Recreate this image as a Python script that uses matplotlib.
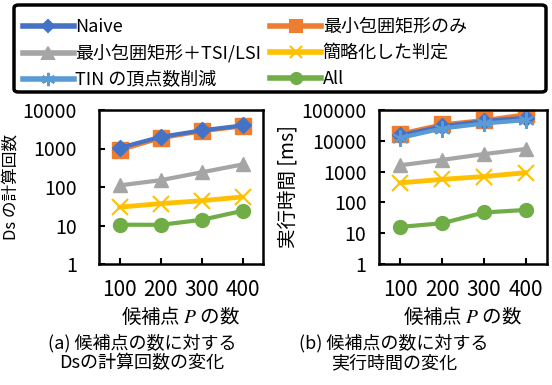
import numpy as np
import matplotlib.pyplot as plt
from matplotlib.lines import Line2D
from matplotlib.patches import FancyBboxPatch

plt.rcParams['font.family'] = ['Noto Sans CJK JP', 'DejaVu Sans']
plt.rcParams['mathtext.fontset'] = 'stix'

# candidate point counts
cands = ['100', '200', '300', '400']

# (a) number of Ds calculations
ds_naive = [1040, 2000, 2950, 3970]
ds_mbr = [900, 1850, 2800, 3750]
ds_mbr_tsi = [110, 150, 240, 385]
ds_simple = [30, 37, 44, 55]
ds_all = [10.5, 10.4, 14, 24]

# (b) execution time [ms]
t_naive = [15000, 29500, 43500, 56000]
t_mbr = [17000, 34000, 47000, 72000]
t_mbr_tsi = [1600, 2400, 3700, 5450]
t_simple = [430, 560, 690, 925]
t_tin = [12300, 25000, 36500, 47000]
t_all = [16, 21, 47, 57]

names = ['Naive', '最小包囲矩形のみ', '最小包囲矩形＋TSI/LSI', '簡略化した判定',
         'TIN の頂点数削減', 'All']
colors = ['#4472C4', '#ED7D31', '#A5A5A5', '#FFC000', '#5B9BD5', '#70AD47']
markers = ['D', 's', '^', 'x', (6, 2, 0), 'o']
msizes = [8, 11, 10, 11, 12, 10]
lwidths = [3, 3, 3, 3.5, 3, 3]

x = np.arange(1, len(cands) + 1)

fig = plt.figure(figsize=(5.52, 3.85), dpi=100)
ax1 = fig.add_axes([99/552, 1-264/385, 164/552, 154/385])
ax2 = fig.add_axes([379/552, 1-264/385, 168/552, 154/385])


def draw(ax, series, idx):
    for vals, i in zip(series, idx):
        thin = markers[i] in ('x', (6, 2, 0))
        ax.plot(x, vals, color=colors[i], marker=markers[i], markersize=msizes[i],
                linewidth=lwidths[i], markeredgewidth=1.5 if thin else 1,
                markeredgecolor=colors[i], solid_capstyle='round')


draw(ax1, [ds_mbr, ds_naive, ds_mbr_tsi, ds_simple, ds_all], [1, 0, 2, 3, 5])
draw(ax2, [t_mbr, t_naive, t_tin, t_mbr_tsi, t_simple, t_all], [1, 0, 4, 2, 3, 5])


def style(ax, top, pad, ylabel, ylsize):
    ax.set_yscale('log')
    ax.set_ylim(1, top)
    ax.set_xlim(0.5, len(cands) + 0.5)
    ax.set_xticks(x)
    ax.set_xticklabels(cands)
    ticks = [10 ** k for k in range(int(np.log10(top)) + 1)]
    ax.set_yticks(ticks)
    ax.set_yticklabels([str(t) for t in ticks])
    ax.minorticks_off()
    ax.tick_params(axis='y', direction='in', length=4, width=1.5, pad=pad, labelsize=14)
    ax.tick_params(axis='x', direction='in', length=4, width=1.5, pad=11, labelsize=15)
    for s in ax.spines.values():
        s.set_linewidth(1.8)
    ax.set_xlabel('候補点 $P$ の数', fontsize=14, labelpad=3)
    ax.set_ylabel(ylabel, fontsize=ylsize, labelpad=2)


style(ax1, 10000, 16, 'Ds の計算回数', 12)
style(ax2, 100000, 9, '実行時間 [ms]', 14)

handles = [Line2D([], [], color=colors[i], marker=markers[i], markersize=msizes[i] * 0.8,
                  linewidth=4, markeredgecolor=colors[i], markeredgewidth=1.5)
           for i in range(len(names))]
order = [0, 2, 4, 1, 3, 5]
leg = fig.legend([handles[i] for i in order], [names[i] for i in order],
                 ncol=2, loc='upper left', bbox_to_anchor=(14/552, 1-9/385),
                 fontsize=13, frameon=False,
                 handlelength=2.8, handletextpad=0.1, columnspacing=0.5,
                 labelspacing=0.45, borderpad=0.5, borderaxespad=0)

box = FancyBboxPatch((14/552, 1-92/385), 532/552, 87/385,
                     boxstyle='round,pad=0,rounding_size=0.008',
                     transform=fig.transFigure, facecolor='none',
                     edgecolor='black', linewidth=2.5)
fig.patches.append(box)

fig.text(142/552, 1-343/385, '(a) 候補点の数に対する', ha='center', va='center', fontsize=13)
fig.text(142/552, 1-363/385, 'Dsの計算回数の変化', ha='center', va='center', fontsize=13)
fig.text(394/552, 1-343/385, '(b) 候補点の数に対する', ha='center', va='center', fontsize=13)
fig.text(394/552, 1-363/385, '実行時間の変化', ha='center', va='center', fontsize=13)

fig.savefig('out.png', dpi=100)
